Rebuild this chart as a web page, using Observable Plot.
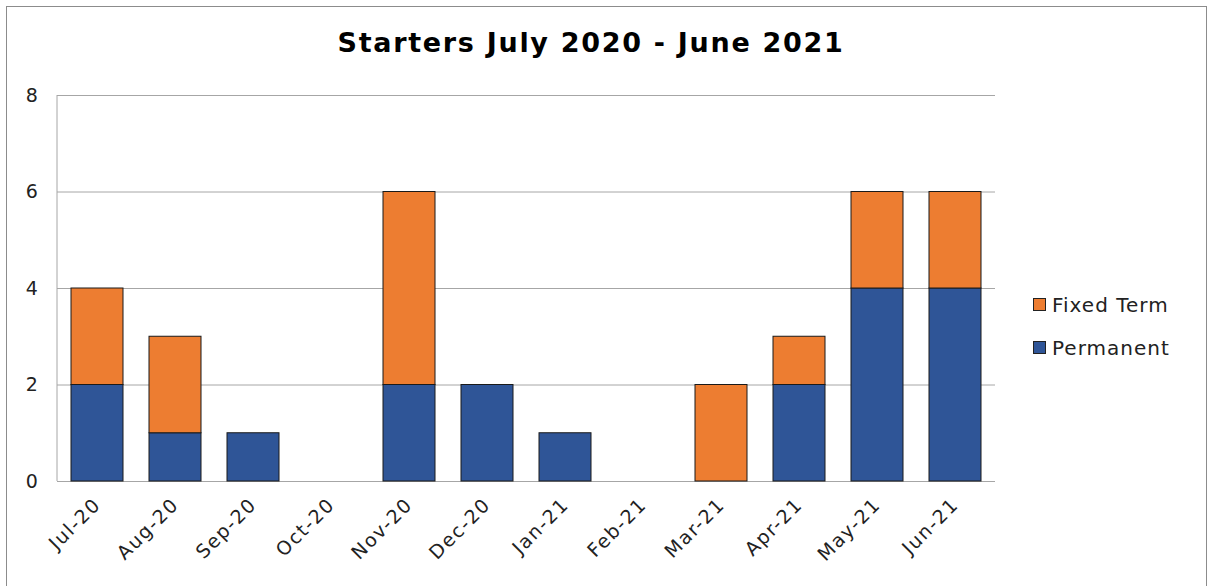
<!DOCTYPE html>
<html>
<head>
<meta charset="utf-8">
<script src="https://cdn.jsdelivr.net/npm/d3@7"></script>
<script src="https://cdn.jsdelivr.net/npm/@observablehq/plot@0.6"></script>
<style>
  html, body { margin: 0; padding: 0; background: #fff; }
  #wrap { position: relative; width: 1209px; height: 586px; overflow: hidden; font-family: "DejaVu Sans", Verdana, sans-serif; }
  #border { position: absolute; left: 6px; top: 6px; width: 1201px; height: 590px; border: 1.5px solid #8c8c8c; box-sizing: border-box; }
  #title { position: absolute; left: 0; width: 1182px; top: 27px; text-align: center; font-weight: bold; font-size: 27px; letter-spacing: 1.7px; color: #000; }
  #legend { position: absolute; left: 1033px; top: 283px; font-size: 20px; letter-spacing: 1px; color: #222; }
  .li { display: flex; align-items: center; height: 43px; }
  .sw { width: 13px; height: 13px; border: 1px solid #222; box-sizing: border-box; margin-right: 6px; }
  #chart { position: absolute; left: 0; top: 0; }
  #chart svg g[aria-label="x-axis tick label"] text { letter-spacing: 1.6px; }
  #chart svg g[aria-label="y-axis tick label"] text { letter-spacing: 0.6px; }
</style>
</head>
<body>
<div id="wrap">
  <div id="chart"></div>
  <div id="border"></div>
  <div id="title">Starters July 2020 - June 2021</div>
  <div id="legend"></div>
</div>
<script>
const months = ["Jul-20","Aug-20","Sep-20","Oct-20","Nov-20","Dec-20","Jan-21","Feb-21","Mar-21","Apr-21","May-21","Jun-21"];
const permanent = [2,1,1,0,2,2,1,0,0,2,4,4];
const fixedTerm = [2,2,0,0,4,0,0,0,2,1,2,2];
const seriesNames = ["Permanent","Fixed Term"];
const seriesColors = ["#2F5597","#ED7D31"];
const yTicks = [0,2,4,6,8];

const rows = [];
months.forEach((m, i) => {
  rows.push({month: m, series: "Permanent", value: permanent[i]});
  rows.push({month: m, series: "Fixed Term", value: fixedTerm[i]});
});

const chart = Plot.plot({
  width: 1209,
  height: 586,
  marginLeft: 57,
  marginRight: 214,
  marginTop: 95,
  marginBottom: 105,
  style: {fontFamily: '"DejaVu Sans", Verdana, sans-serif', fontSize: "17px", color: "#222", background: "transparent"},
  x: {domain: months, paddingInner: 0.335, paddingOuter: 0.1675, label: null},
  y: {domain: [0, 8], ticks: yTicks, label: null},
  color: {domain: seriesNames, range: seriesColors},
  marks: [
    Plot.gridY(yTicks, {stroke: "#a6a6a6", strokeOpacity: 1, strokeWidth: 1}),
    Plot.barY(rows.filter(d => d.value > 0), Plot.stackY({
      x: "month", y: "value", z: "series", fill: "series",
      order: seriesNames,
      stroke: "#1a1a1a", strokeWidth: 1
    })),
    Plot.axisX({tickSize: 0, tickPadding: 20, tickRotate: -45, fontSize: 19}),
    Plot.axisY(yTicks, {tickSize: 0, tickPadding: 19, fontSize: 19})
  ]
});
document.getElementById("chart").appendChild(chart);

// left axis line of plot area
const svg = d3.select(chart);
svg.append("line").attr("x1", 57).attr("x2", 57).attr("y1", 95).attr("y2", 481)
  .attr("stroke", "#a6a6a6").attr("stroke-width", 1);

const legend = document.getElementById("legend");
["Fixed Term","Permanent"].forEach(name => {
  const i = seriesNames.indexOf(name);
  const row = document.createElement("div");
  row.className = "li";
  row.innerHTML = `<div class="sw" style="background:${seriesColors[i]}"></div><span>${name}</span>`;
  legend.appendChild(row);
});
</script>
</body>
</html>
